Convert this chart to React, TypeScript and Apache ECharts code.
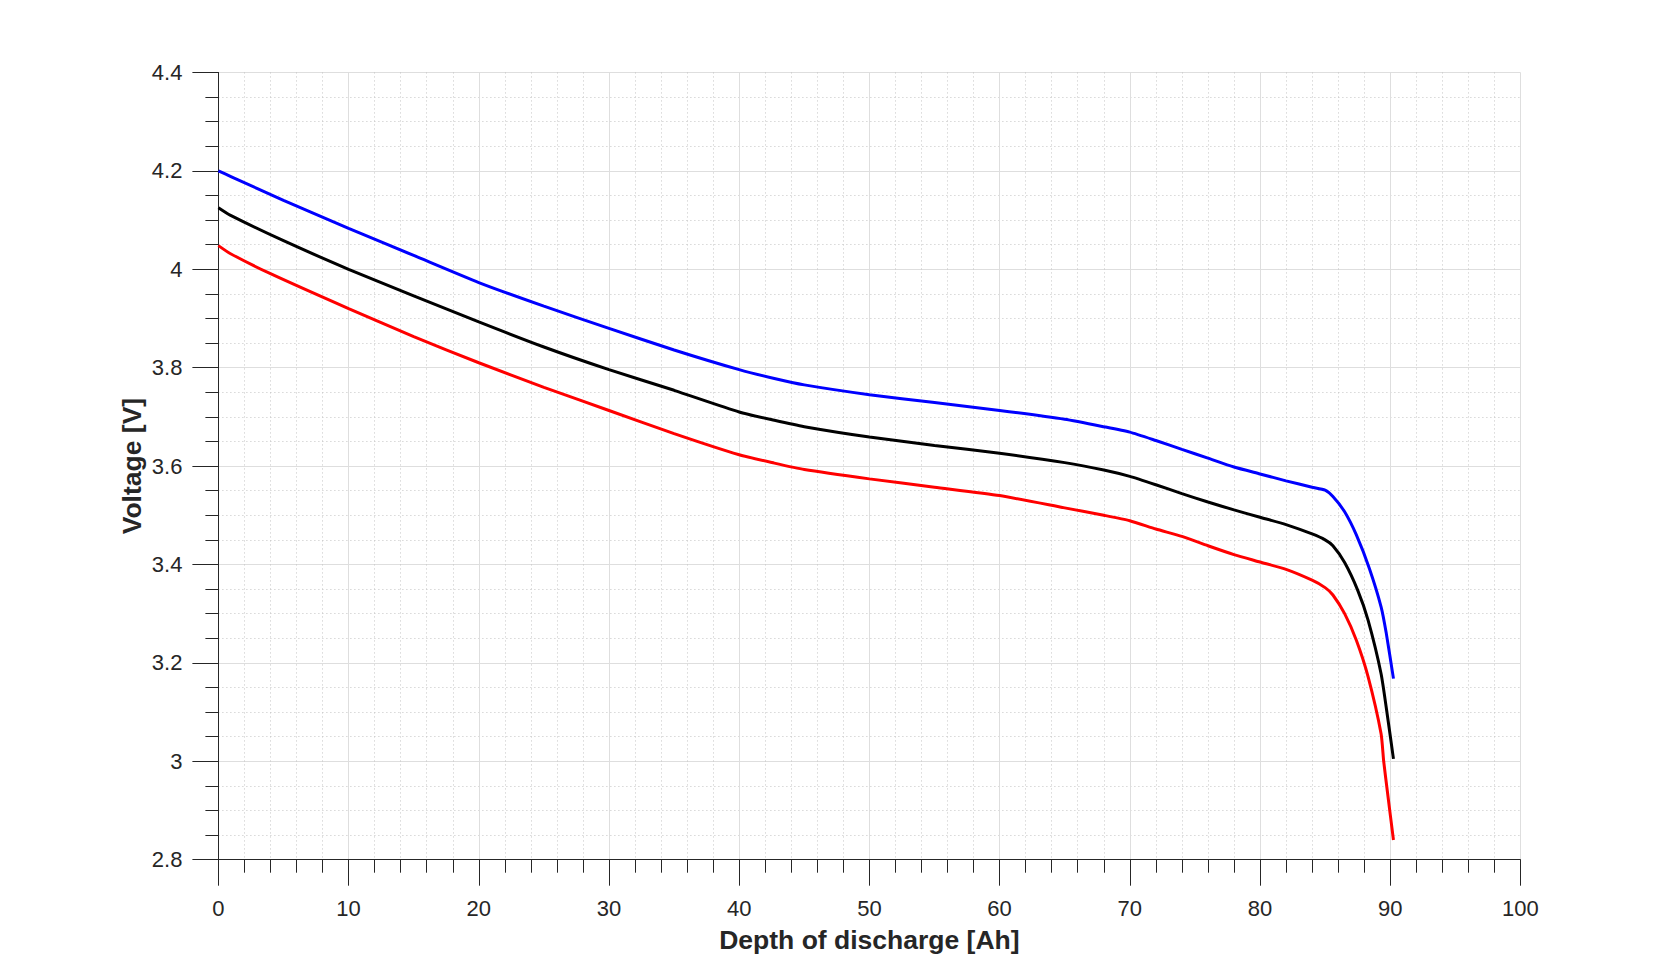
import React, { useEffect, useRef } from "react";
import * as echarts from "echarts";

const xTicks = { min: 0, max: 100, interval: 10 };
const yTicks = { min: 2.8, max: 4.4, interval: 0.2 };

const blueX = [0, 1, 5, 10, 15, 20, 25, 30, 35, 40, 42.7, 45, 50, 55, 60, 65, 68, 70, 72, 74, 76, 78, 80, 82, 84, 85, 85.6, 86.5, 87.4, 88.4, 89.3, 89.7, 90.25];
const blueV = [4.2, 4.188, 4.14, 4.083, 4.028, 3.973, 3.925, 3.88, 3.836, 3.796, 3.778, 3.765, 3.745, 3.729, 3.713, 3.695, 3.68, 3.669, 3.652, 3.634, 3.616, 3.598, 3.584, 3.57, 3.557, 3.551, 3.538, 3.507, 3.46, 3.392, 3.314, 3.26, 3.168];

const blackX = [0, 0.9, 5, 10, 15, 20, 25, 30, 35, 40, 42.7, 45, 50, 55, 60, 65, 68, 70, 72, 74, 76, 78, 80, 82, 84, 85, 85.6, 86.5, 87.5, 88.3, 89.3, 89.8, 90.25];
const blackV = [4.125, 4.11, 4.058, 4.0, 3.946, 3.893, 3.842, 3.796, 3.754, 3.71, 3.693, 3.68, 3.659, 3.642, 3.626, 3.607, 3.592, 3.579, 3.562, 3.544, 3.527, 3.511, 3.496, 3.481, 3.462, 3.45, 3.438, 3.404, 3.348, 3.287, 3.178, 3.09, 3.005];

const redX = [0, 0.9, 4, 10, 15, 20, 25, 30, 35, 40, 42.7, 45, 50, 55, 60, 65, 68, 70, 72, 74, 76, 78, 80, 82, 84, 85, 85.6, 86.5, 87.4, 88.3, 89.3, 89.5, 89.8, 90.25];
const redV = [4.048, 4.032, 3.991, 3.92, 3.863, 3.81, 3.76, 3.713, 3.666, 3.623, 3.606, 3.593, 3.574, 3.557, 3.54, 3.515, 3.5, 3.489, 3.472, 3.457, 3.438, 3.42, 3.405, 3.39, 3.368, 3.353, 3.338, 3.3, 3.246, 3.172, 3.056, 3.0, 2.935, 2.84];

const xTitle = "Depth of discharge [Ah]";
const yTitle = "Voltage [V]";

const FONT = "'Liberation Sans', Arial, Helvetica, sans-serif";
const AXIS_COLOR = "#262626";

function pairs(xs: number[], vs: number[]) {
  return xs.map((x, i) => [x, vs[i]]);
}

export default function App() {
  const ref = useRef<HTMLDivElement>(null);
  useEffect(() => {
    document.body.style.margin = "0";
    if (!ref.current) return;
    const chart = echarts.init(ref.current, null, { renderer: "svg" });
    const axisCommon = {
      axisLine: { show: true, lineStyle: { color: AXIS_COLOR, width: 1 } },
      axisTick: { show: true, inside: false, length: 26, lineStyle: { color: AXIS_COLOR, width: 1 } },
      minorTick: { show: true, length: 13, lineStyle: { color: AXIS_COLOR, width: 1 } },
      splitLine: { show: true, lineStyle: { color: "#dedede", width: 1, type: "solid" } },
      minorSplitLine: { show: true, lineStyle: { color: "#c4c4c4", width: 1, type: [1, 3] } },
      axisLabel: { color: AXIS_COLOR, fontSize: 22, fontFamily: FONT },
      nameTextStyle: { color: AXIS_COLOR, fontSize: 26.5, fontWeight: "bold", fontFamily: FONT },
      nameLocation: "middle",
      nameMoveOverlap: false,
    };
    chart.setOption({
      animation: false,
      backgroundColor: "#ffffff",
      grid: { left: 218.4, top: 72.45, right: 159.6, bottom: 106.3, containLabel: false },
      xAxis: {
        type: "value",
        min: xTicks.min,
        max: xTicks.max,
        interval: xTicks.interval,
        name: xTitle,
        nameGap: 67,
        ...axisCommon,
        axisLabel: { ...axisCommon.axisLabel, margin: 38 },
        minorTick: { ...axisCommon.minorTick, splitNumber: 5 },
      },
      yAxis: {
        type: "value",
        min: yTicks.min,
        max: yTicks.max,
        interval: yTicks.interval,
        name: yTitle,
        nameGap: 73,
        ...axisCommon,
        axisLabel: { ...axisCommon.axisLabel, margin: 36 },
        minorTick: { ...axisCommon.minorTick, splitNumber: 4 },
      },
      series: [
        { type: "line", data: pairs(blueX, blueV), color: "#0000ff", lineStyle: { color: "#0000ff", width: 3 }, showSymbol: false, smooth: 0.2 },
        { type: "line", data: pairs(blackX, blackV), color: "#000000", lineStyle: { color: "#000000", width: 3 }, showSymbol: false, smooth: 0.2 },
        { type: "line", data: pairs(redX, redV), color: "#ff0000", lineStyle: { color: "#ff0000", width: 3 }, showSymbol: false, smooth: 0.2 },
      ],
    });
    return () => chart.dispose();
  }, []);
  return <div ref={ref} style={{ width: 1680, height: 966 }} />;
}
